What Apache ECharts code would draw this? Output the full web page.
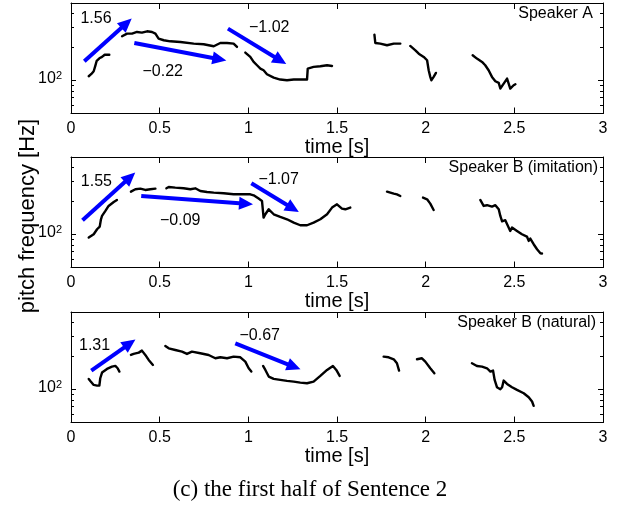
<!DOCTYPE html>
<html><head><meta charset="utf-8">
<script src="https://cdn.jsdelivr.net/npm/echarts@6/dist/echarts.min.js"></script>
<style>html,body{margin:0;padding:0;background:#fff}#c{width:619px;height:509px}</style>
</head><body><div id="c"></div>
<script>
// ---------- data (time [s], pitch [Hz]) ----------
const panelTitles = ['Speaker A', 'Speaker B (imitation)', 'Speaker B (natural)'];
const timeMin = 0, timeMax = 3, timeStep = 0.5;
const hzMin = 50, hzMax = 500;
const yMajorTicks = [100];
const yMinorTicks = [60, 70, 80, 90, 200, 300, 400];

const contourA = [
  [[0.100,108.7],[0.115,114],[0.128,120.6],[0.137,135],[0.145,150],[0.160,158],[0.175,162.5],[0.190,170],[0.216,170]],
  [[0.288,249.8],[0.316,264],[0.344,264],[0.372,273.4],[0.400,269.6],[0.429,277.2],[0.457,273.4],[0.476,264],[0.494,237.9],[0.523,230],[0.560,225],[0.617,222],[0.692,214.5],[0.748,211.5],[0.805,202.9],[0.842,217.5],[0.880,217.5],[0.917,214.5],[0.936,200]],
  [[0.983,177.8],[1.011,162.5],[1.030,146.4],[1.049,136.6],[1.068,127.5],[1.086,123.1],[1.105,113.3],[1.143,105.7],[1.180,101.4],[1.218,100],[1.256,101.4],[1.331,101.4],[1.335,127.5],[1.368,132],[1.406,133.8],[1.444,136.6],[1.472,134.7]],
  [[1.711,258.6],[1.716,217.5],[1.744,214.5],[1.782,207.2],[1.820,214.5],[1.857,214.5]],
  [[1.913,204.3],[1.942,186.6],[1.961,174],[1.989,162.5],[2.008,151.6],[2.017,123.1],[2.026,107.2],[2.032,100],[2.045,107.2],[2.058,116.5]],
  [[2.265,168.2],[2.289,157],[2.318,146.4],[2.336,136.6],[2.355,123.1],[2.374,107.2],[2.393,97.9],[2.412,94.6],[2.421,84.1],[2.440,93.3],[2.459,103.5],[2.477,84.1],[2.496,90.1],[2.506,92.0]]
];
const contourBi = [
  [[0.100,93.3],[0.109,91.4],[0.128,100],[0.147,110.9],[0.162,117.3],[0.169,136.6],[0.175,146.4],[0.194,162.5],[0.212,180.4],[0.241,195.8],[0.259,204.3]],
  [[0.338,243],[0.363,255.1],[0.391,258.6],[0.419,251.6],[0.447,255.1],[0.476,258.6]],
  [[0.538,260.4],[0.551,267.7],[0.588,264],[0.635,260.4],[0.673,255.1],[0.701,260.4],[0.729,246.4],[0.767,241.3],[0.805,237.9],[0.861,234.6],[0.917,229.8],[0.964,229.8],[1.011,229.8],[1.030,225],[1.058,210.1],[1.077,200.1],[1.086,141.5],[1.096,151.6],[1.115,168.2],[1.124,162.5],[1.143,151.6],[1.180,143.5],[1.218,136.6],[1.256,127.5],[1.293,120.6],[1.331,120.6],[1.368,127.5],[1.406,136.6],[1.444,151.6],[1.472,174.2],[1.500,186.6],[1.528,170.6],[1.547,168.2],[1.556,174.2],[1.575,174.2]],
  [[1.782,243],[1.801,237.9],[1.820,233],[1.838,229.8],[1.857,222]],
  [[1.985,214.5],[2.008,207.2],[2.026,189.3],[2.045,165.9]],
  [[2.308,204.3],[2.318,200.1],[2.327,180.4],[2.346,183.1],[2.374,177.8],[2.393,183.1],[2.412,168.2],[2.421,146.4],[2.431,130.9],[2.449,133.9],[2.459,130.9],[2.477,107.2],[2.487,114.9],[2.515,107.2],[2.543,100],[2.571,95.3],[2.581,87.0],[2.590,91.4],[2.609,81.2],[2.628,73.2],[2.647,67.3],[2.656,66.9]]
];
const contourBn = [
  [[0.100,124],[0.109,118.9],[0.128,109.4],[0.147,107.9],[0.160,107.9],[0.165,125.7],[0.175,141.5],[0.203,152.6],[0.231,160.3],[0.250,162.5],[0.263,154.8],[0.273,144.4]],
  [[0.338,204.3],[0.353,208.6],[0.382,214.5],[0.400,223.6],[0.419,204.3],[0.438,184.1],[0.462,165.9]],
  [[0.532,246.4],[0.551,234.6],[0.588,226.6],[0.626,219],[0.654,208.6],[0.682,219],[0.729,211.5],[0.776,204.3],[0.814,190.6],[0.842,194.6],[0.880,190.6],[0.917,197.3],[0.955,194.6],[0.983,177.8],[1.002,154.8],[1.017,144.4]],
  [[1.083,162.5],[1.096,149.5],[1.115,130.2],[1.143,124],[1.180,121.4],[1.218,118.9],[1.256,117.3],[1.293,114.9],[1.331,113.3],[1.368,117.3],[1.406,132],[1.444,149.5],[1.477,162.5],[1.496,149.5],[1.515,132]],
  [[1.763,197.3],[1.791,194.6],[1.820,186.6],[1.838,171.8],[1.850,147.5]],
  [[1.951,186.6],[1.979,190.6],[1.998,177.8],[2.026,154.8],[2.049,139.5]],
  [[2.261,171.8],[2.289,162.5],[2.318,160.3],[2.346,154.8],[2.365,144.4],[2.380,147.5],[2.389,121.4],[2.402,104.3],[2.421,100],[2.431,104.3],[2.440,119.8],[2.459,111.7],[2.487,104.3],[2.515,98.6],[2.553,92],[2.581,84.7],[2.600,77.4],[2.609,70.7]]
];

// slope arrows: [t0, hz0, t1, hz1]
const arrowsA  = [[0.075,148.5,0.313,327.6],[0.357,217.5,0.837,155.1],[0.885,293,1.180,151.0]];
const arrowsBi = [[0.065,133.8,0.333,327.5],[0.396,221.8,0.987,188.7],[1.017,289,1.251,171.1]];
const arrowsBn = [[0.1145,147.2,0.331,259.3],[0.9265,260.4,1.2575,159.7]];
// slope labels: [t, hz, text]
const labelsA  = [[0.141,360.6,'1.56'],[0.517,120.6,'\u22120.22'],[1.118,299.3,'\u22121.02']];
const labelsBi = [[0.143,297,'1.55'],[0.616,131.9,'\u22120.09'],[1.171,314,'\u22121.07']];
const labelsBn = [[0.133,247.8,'1.31'],[1.064,303,'\u22120.67']];

const xLabel = 'time [s]';
const yLabel = 'pitch frequency [Hz]';
const caption = '(c) the first half of Sentence 2';

// ---------- build ----------
const FONT = '"Liberation Sans", Arial, Helvetica, sans-serif';
const BLUE = '#0000ff';
const contours = [contourA, contourBi, contourBn];
const arrows = [arrowsA, arrowsBi, arrowsBn];
const labels = [labelsA, labelsBi, labelsBn];
const gridTops = [3, 157, 312];
const gridH = 110.5;
const titleRight = [26, 21, 23];
const titleTop = [6, 160, 315];

const grid = [], xAxis = [], yAxis = [], series = [], title = [];
const axLine = {show: true, onZero: false, lineStyle: {color: '#000', width: 1}};

for (let p = 0; p < 3; p++) {
  grid.push({left: 71, right: 16, top: gridTops[p], height: gridH});
  const xi = xAxis.length, yi = yAxis.length;
  const xBase = {type: 'value', gridIndex: p, min: timeMin, max: timeMax, interval: timeStep,
    splitLine: {show: false}, axisLine: axLine,
    axisTick: {show: true, inside: true, length: 6, lineStyle: {color: '#000', width: 1}}};
  xAxis.push(Object.assign({}, xBase, {position: 'bottom', name: xLabel, nameLocation: 'middle', nameGap: 21,
    nameTextStyle: {fontSize: 20, color: '#000', fontFamily: FONT},
    axisLabel: {show: true, margin: 7, fontSize: 16, color: '#000', fontFamily: FONT}}));
  xAxis.push(Object.assign({}, xBase, {position: 'top', axisLabel: {show: false}}));

  yAxis.push({type: 'log', logBase: 10, gridIndex: p, min: hzMin, max: hzMax, position: 'left',
    splitLine: {show: false}, axisLine: axLine, axisTick: {show: false},
    axisLabel: {show: true, margin: 9, color: '#000', fontFamily: FONT,
      formatter: v => Math.abs(v - 100) < 0.5 ? '{a|10}{b|2}' : '',
      rich: {a: {fontSize: 16, lineHeight: 20, fontFamily: FONT, color: '#000', padding: [0, 0, 4, 0]},
             b: {fontSize: 11, lineHeight: 11, verticalAlign: 'top', fontFamily: FONT, color: '#000'}}}});
  yAxis.push({type: 'log', logBase: 10, gridIndex: p, min: hzMin, max: hzMax, position: 'right',
    splitLine: {show: false}, axisLine: axLine, axisTick: {show: false}, axisLabel: {show: false}});
  ['left', 'right'].forEach(side => {
    [[yMajorTicks, 5], [yMinorTicks, 3]].forEach(([vals, len]) => {
      yAxis.push({type: 'value', gridIndex: p, min: Math.log10(hzMin), max: Math.log10(hzMax), position: side,
        splitLine: {show: false}, axisLine: {show: false, onZero: false}, axisLabel: {show: false},
        axisTick: {show: true, inside: true, length: len, customValues: vals.map(v => Math.log10(v)),
          lineStyle: {color: '#000', width: 1}}});
    });
  });

  contours[p].forEach(seg => {
    series.push({type: 'line', xAxisIndex: xi, yAxisIndex: yi, data: seg, symbol: 'none',
      lineStyle: {color: '#000', width: 2.4, join: 'round', cap: 'round'}, silent: true, animation: false, z: 3});
  });
  series.push({type: 'scatter', xAxisIndex: xi, yAxisIndex: yi, symbolSize: 0, silent: true, animation: false,
    itemStyle: {color: '#000', opacity: 1},
    data: labels[p].map(l => ({value: [l[0], l[1]], name: l[2]})),
    label: {show: true, position: [0, 0], align: 'center', verticalAlign: 'middle',
      formatter: q => q.name, fontSize: 16, color: '#000', opacity: 1,
      textBorderWidth: 0, fontFamily: FONT},
    markLine: {silent: true, animation: false, symbol: ['none', 'triangle'], symbolSize: [13, 14],
      label: {show: false}, lineStyle: {color: BLUE, width: 4, type: 'solid', opacity: 1},
      emphasis: {disabled: true},
      data: arrows[p].map(a => [{coord: [a[0], a[1]]}, {coord: [a[2], a[3]]}])}, z: 4});

  title.push({text: panelTitles[p], right: titleRight[p], top: titleTop[p], padding: 0,
    textStyle: {fontSize: 16, fontWeight: 'normal', color: '#000', fontFamily: FONT}});
}

const chart = echarts.init(document.getElementById('c'), null, {renderer: 'canvas'});
chart.setOption({
  animation: false,
  backgroundColor: '#fff',
  title, grid, xAxis, yAxis, series,
  graphic: [
    {type: 'text', x: 28, y: 216, rotation: Math.PI / 2,
      style: {text: yLabel, fontSize: 22, fontFamily: FONT, fill: '#000', align: 'center', verticalAlign: 'middle'}},
    {type: 'text', x: 310, y: 490,
      style: {text: caption, fontSize: 23, fontFamily: '"Liberation Serif", "Times New Roman", serif', fill: '#000', align: 'center', verticalAlign: 'middle'}}
  ]
});
</script></body></html>
